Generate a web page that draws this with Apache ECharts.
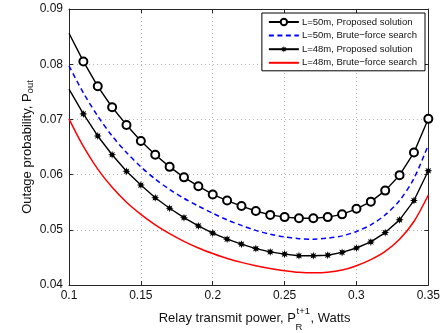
<!DOCTYPE html>
<html>
<head>
<meta charset="utf-8">
<script src="https://cdn.jsdelivr.net/npm/echarts@6/dist/echarts.min.js"></script>
<style>
    html, body { margin: 0; padding: 0; background: #fff; }
    #chart { width: 443px; height: 333px; }
</style>
</head>
<body>
<div id="chart"></div>
<script>
// 发射功率 (x 轴)
const powers = [0.10, 0.11, 0.12, 0.13, 0.14, 0.15, 0.16, 0.17, 0.18, 0.19, 0.20, 0.21, 0.22,
    0.23, 0.24, 0.25, 0.26, 0.27, 0.28, 0.29, 0.30, 0.31, 0.32, 0.33, 0.34, 0.35];

// L=50m, Proposed solution
const l50Proposed = [0.0856, 0.0805, 0.0760, 0.0722, 0.0690, 0.0661, 0.0636, 0.0614, 0.0595, 0.0579,
    0.0564, 0.0553, 0.0543, 0.0534, 0.0527, 0.0523, 0.0521, 0.0521, 0.0523, 0.0528,
    0.0538, 0.0551, 0.0571, 0.0599, 0.0640, 0.0701];
// L=50m, Brute-force search
const l50Brute = [0.0797, 0.0748, 0.0706, 0.0670, 0.0640, 0.0614, 0.0592, 0.0573, 0.0557, 0.0543,
    0.0530, 0.0518, 0.0508, 0.0499, 0.0492, 0.0487, 0.0484, 0.0483, 0.0485, 0.0489,
    0.0497, 0.0509, 0.0527, 0.0553, 0.0593, 0.0654];
// L=48m, Proposed solution
const l48Proposed = [0.0755, 0.0710, 0.0670, 0.0636, 0.0606, 0.0581, 0.0558, 0.0539, 0.0522, 0.0507,
    0.0494, 0.0483, 0.0474, 0.0466, 0.0460, 0.0456, 0.0453, 0.0453, 0.0454, 0.0459,
    0.0467, 0.0478, 0.0495, 0.0518, 0.0553, 0.0607];
// L=48m, Brute-force search
const l48Brute = [0.0701, 0.0651, 0.0610, 0.0577, 0.0550, 0.0528, 0.0509, 0.0493, 0.0479, 0.0467,
    0.0457, 0.0448, 0.0441, 0.0435, 0.0430, 0.0426, 0.0423, 0.0422, 0.0423, 0.0427,
    0.0435, 0.0446, 0.0461, 0.0483, 0.0515, 0.0563];

const seriesNames = ['L=50m, Proposed solution', 'L=50m, Brute\u2212force search',
    'L=48m, Proposed solution', 'L=48m, Brute\u2212force search'];

const FONT = 'Liberation Sans, Arial, sans-serif';

// 星号标记 (MATLAB '*')
function asteriskPath() {
    let d = '';
    for (let k = 0; k < 16; k++) {
        const a = Math.PI * k / 8;
        const r = k % 2 ? 0.5 : 1;
        d += (k ? 'L' : 'M') + (r * Math.cos(a)).toFixed(3) + ' ' + (r * Math.sin(a)).toFixed(3) + ' ';
    }
    return 'path://' + d + 'Z';
}

// 第一个点没有标记
function withMarkers(ys) {
    return powers.map((x, i) => i === 0 ? { value: [x, ys[i]], symbol: 'none' } : [x, ys[i]]);
}

function plain(ys) {
    return powers.map((x, i) => [x, ys[i]]);
}

const chart = echarts.init(document.getElementById('chart'));

const gridLine = { show: true, lineStyle: { color: '#b4b4b4', width: 1, type: [1, 3] } };
const frameLine = { show: true, lineStyle: { color: '#262626', width: 1 } };
const tick = { show: true, inside: true, length: 4, lineStyle: { color: '#262626' } };

const option = {
    animation: false,
    backgroundColor: '#fff',
    grid: { left: 69, right: 14, top: 9, bottom: 48, containLabel: false },
    xAxis: [
        {
            type: 'value', min: 0.1, max: 0.35, interval: 0.05,
            axisLine: frameLine, axisTick: tick, splitLine: gridLine,
            axisLabel: {
                margin: 5, color: '#111', fontSize: 12, fontFamily: FONT,
                formatter: v => String(+v.toFixed(2))
            }
        },
        {
            type: 'value', position: 'top', min: 0.1, max: 0.35, interval: 0.05,
            axisLine: frameLine, axisTick: tick, splitLine: { show: false },
            axisLabel: { show: false }
        }
    ],
    yAxis: [
        {
            type: 'value', min: 0.04, max: 0.09, interval: 0.01,
            axisLine: frameLine, axisTick: tick, splitLine: gridLine,
            axisLabel: {
                margin: 6, color: '#111', fontSize: 12, fontFamily: FONT,
                formatter: v => v.toFixed(2)
            }
        },
        {
            type: 'value', position: 'right', min: 0.04, max: 0.09, interval: 0.01,
            axisLine: frameLine, axisTick: tick, splitLine: { show: false },
            axisLabel: { show: false }
        }
    ],
    legend: {
        orient: 'vertical',
        right: 18, top: 13,
        padding: [4, 8, 3, 6],
        itemWidth: 30, itemHeight: 8, itemGap: 3.6,
        backgroundColor: '#fff',
        borderColor: '#000', borderWidth: 1, borderRadius: 0,
        textStyle: { fontSize: 9.5, fontFamily: FONT, color: '#111', padding: [0, 0, 0, -2] },
        data: [
            { name: seriesNames[0] },
            { name: seriesNames[1], itemStyle: { opacity: 0 } },
            { name: seriesNames[2] },
            { name: seriesNames[3], itemStyle: { opacity: 0 } }
        ]
    },
    graphic: [
        {
            type: 'text', x: 27, y: 147, rotation: Math.PI / 2,
            style: {
                text: '{a|Outage probability, P}{b|out}',
                align: 'center', verticalAlign: 'middle',
                rich: {
                    a: { fontSize: 13, fontFamily: FONT, fill: '#111', lineHeight: 16 },
                    b: { fontSize: 9.5, fontFamily: FONT, fill: '#111', lineHeight: 10, verticalAlign: 'bottom' }
                }
            }
        },
        {
            type: 'text', x: 296, y: 318.5,
            style: { text: 'Relay transmit power, P', fontSize: 13, fontFamily: FONT, fill: '#111', align: 'right', verticalAlign: 'middle' }
        },
        {
            type: 'text', x: 296.5, y: 311,
            style: { text: 't+1', fontSize: 9.5, fontFamily: FONT, fill: '#111', align: 'left', verticalAlign: 'middle' }
        },
        {
            type: 'text', x: 295.5, y: 327,
            style: { text: 'R', fontSize: 9.5, fontFamily: FONT, fill: '#111', align: 'left', verticalAlign: 'middle' }
        },
        {
            type: 'text', x: 310.5, y: 318.5,
            style: { text: ', Watts', fontSize: 13, fontFamily: FONT, fill: '#111', align: 'left', verticalAlign: 'middle' }
        }
    ],
    series: [
        {
            name: seriesNames[0], type: 'line',
            data: withMarkers(l50Proposed),
            symbol: 'emptyCircle', symbolSize: 8, showAllSymbol: true,
            lineStyle: { color: '#000', width: 1.4 },
            itemStyle: { color: '#000', borderWidth: 1.1 }
        },
        {
            name: seriesNames[1], type: 'line',
            data: plain(l50Brute),
            symbol: 'none', smooth: 0.3,
            lineStyle: { color: '#0000ff', width: 1.5, type: [5, 3.5] },
            itemStyle: { color: '#0000ff' }
        },
        {
            name: seriesNames[2], type: 'line',
            data: withMarkers(l48Proposed),
            symbol: asteriskPath(), symbolSize: 8, showAllSymbol: true,
            lineStyle: { color: '#000', width: 1.4 },
            itemStyle: { color: '#000' }
        },
        {
            name: seriesNames[3], type: 'line',
            data: plain(l48Brute),
            symbol: 'none', smooth: 0.3,
            lineStyle: { color: '#ff0000', width: 1.5 },
            itemStyle: { color: '#ff0000' }
        }
    ]
};

chart.setOption(option);
</script>
</body>
</html>
